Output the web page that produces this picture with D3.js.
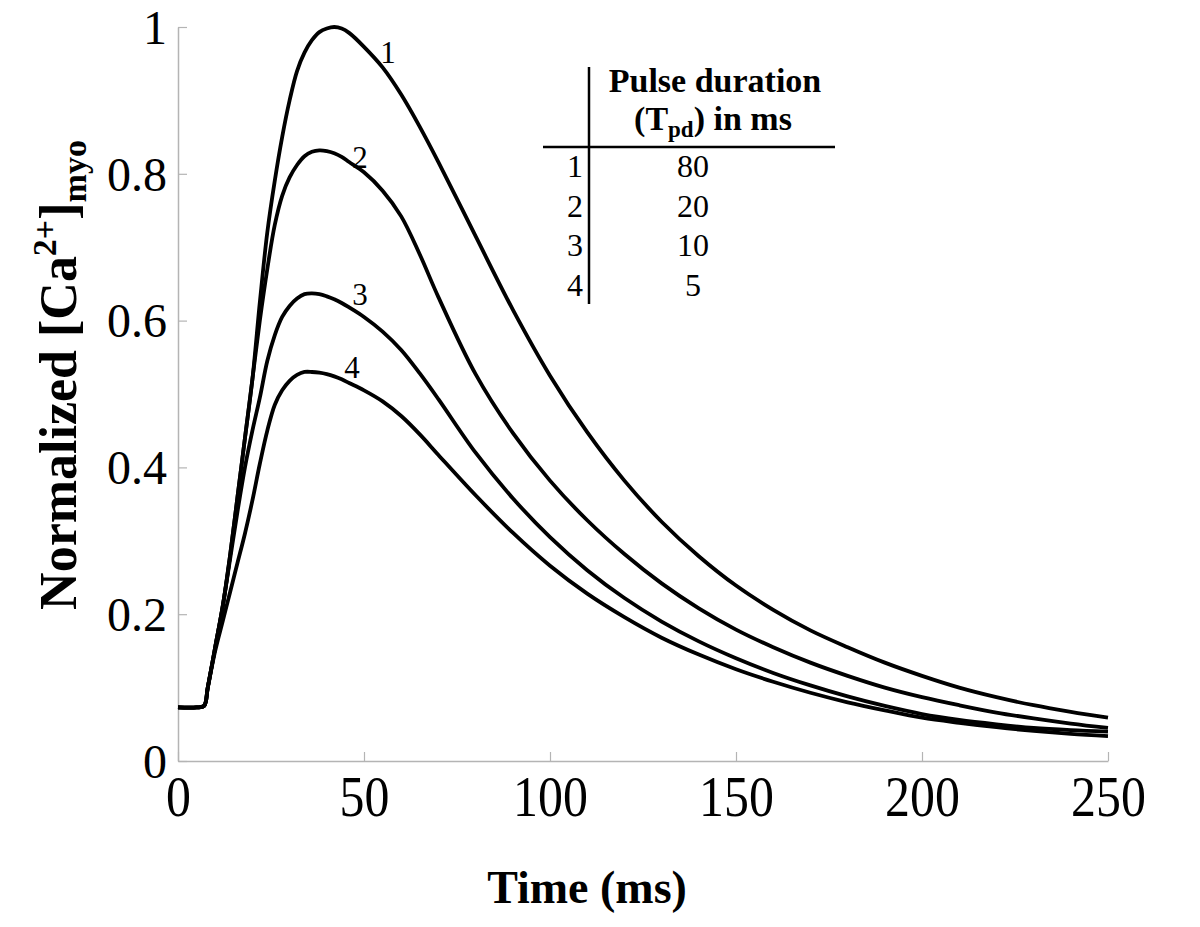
<!DOCTYPE html>
<html>
<head>
<meta charset="utf-8">
<script src="https://cdn.jsdelivr.net/npm/d3@7"></script>
<style>
html,body{margin:0;padding:0;background:#fff;}
svg{display:block;font-family:"Liberation Serif","Times New Roman",serif;}
</style>
</head>
<body>
<svg id="chart" width="1200" height="927"></svg>
<script>
// ---- data ----
const time = [0,5,7,8,10,12,14,16,18,20,22,24,26,28,30,32,34,36,38,40,42,44,46,50,55,60,65,70,80,90,100,110,120,130,140,150,160,170,180,190,200,210,220,230,240,250];
const curve1 = [0.073,0.073,0.075,0.10,0.155,0.21,0.28,0.36,0.44,0.52,0.625,0.72,0.79,0.85,0.90,0.94,0.965,0.982,0.993,0.998,1.0,0.998,0.992,0.973,0.945,0.908,0.864,0.816,0.715,0.615,0.525,0.448,0.382,0.326,0.279,0.239,0.206,0.178,0.155,0.134,0.116,0.10,0.087,0.076,0.067,0.059];
const curve2 = [0.073,0.073,0.075,0.10,0.155,0.21,0.28,0.36,0.44,0.52,0.60,0.67,0.73,0.77,0.795,0.812,0.824,0.83,0.832,0.831,0.828,0.823,0.816,0.802,0.777,0.742,0.69,0.632,0.527,0.447,0.382,0.328,0.282,0.242,0.208,0.179,0.155,0.134,0.116,0.1,0.087,0.076,0.066,0.058,0.051,0.045];
const curve3 = [0.073,0.073,0.075,0.10,0.155,0.21,0.275,0.34,0.40,0.45,0.495,0.545,0.58,0.605,0.62,0.63,0.636,0.637,0.636,0.633,0.629,0.624,0.618,0.605,0.585,0.56,0.528,0.493,0.42,0.358,0.305,0.26,0.222,0.19,0.163,0.14,0.12,0.103,0.088,0.075,0.064,0.056,0.05,0.045,0.042,0.040];
const curve4 = [0.073,0.073,0.075,0.10,0.15,0.19,0.23,0.27,0.31,0.355,0.405,0.45,0.485,0.505,0.518,0.526,0.53,0.53,0.529,0.527,0.524,0.52,0.515,0.505,0.49,0.47,0.445,0.417,0.362,0.311,0.266,0.228,0.196,0.168,0.145,0.125,0.108,0.093,0.08,0.069,0.059,0.052,0.046,0.041,0.037,0.034];
const seriesNames = ["1","2","3","4"];
const xTicks = [0,50,100,150,200,250];
const yTicks = [0,0.2,0.4,0.6,0.8,1];
const yTickLabels = ["0","0.2","0.4","0.6","0.8","1"];
const tableRows = ["1","2","3","4"];
const tableValues = ["80","20","10","5"];

// ---- layout ----
const svg = d3.select("#chart");
const x = d3.scaleLinear().domain([0,250]).range([178,1108]);
const y = d3.scaleLinear().domain([0,1]).range([761,27]);
const axisColor = "#b4b4b4";

// x axis (ticks inward)
const gx = svg.append("g").attr("transform","translate(0,761)")
  .call(d3.axisBottom(x).tickValues(xTicks).tickSizeInner(-9).tickSizeOuter(0).tickFormat(d3.format("d")));
gx.select(".domain").attr("stroke",axisColor).attr("stroke-width",1.5);
gx.selectAll(".tick line").attr("stroke",axisColor).attr("stroke-width",1.2);
gx.selectAll(".tick text").attr("fill","#000").attr("font-size",58)
  .attr("font-family","Liberation Serif").attr("y",0).attr("dy","0.95em")
  .attr("transform","scale(0.86,1)");

// y axis
const gy = svg.append("g").attr("transform","translate(178,0)")
  .call(d3.axisLeft(y).tickValues(yTicks).tickSizeInner(-9).tickSizeOuter(0).tickFormat((d,i)=>yTickLabels[i]));
gy.select(".domain").attr("stroke",axisColor).attr("stroke-width",1.5);
gy.selectAll(".tick line").attr("stroke",axisColor).attr("stroke-width",1.2);
gy.selectAll(".tick text").attr("fill","#000").attr("font-size",48)
  .attr("font-family","Liberation Serif").attr("x",-11).attr("dy","0.34em");

// curves
const allSeries = [curve1,curve2,curve3,curve4];
const line = d3.line().x((d,i)=>x(time[i])).y(d=>y(d)).curve(d3.curveCatmullRom.alpha(0.5));
svg.append("g").selectAll("path").data(allSeries).join("path")
  .attr("d",line).attr("fill","none").attr("stroke","#000").attr("stroke-width",3.8)
  .attr("stroke-linejoin","round");

// curve labels
const labelPos = [[388,63],[360,168],[360,305],[352,378]];
svg.append("g").selectAll("text").data(seriesNames).join("text")
  .attr("x",(d,i)=>labelPos[i][0]).attr("y",(d,i)=>labelPos[i][1])
  .attr("text-anchor","middle").attr("font-size",31).text(d=>d);

// table
const tbl = svg.append("g");
tbl.append("line").attr("x1",589).attr("x2",589).attr("y1",67).attr("y2",304).attr("stroke","#000").attr("stroke-width",2.5);
tbl.append("line").attr("x1",543).attr("x2",835).attr("y1",147).attr("y2",147).attr("stroke","#000").attr("stroke-width",2.5);
tbl.append("text").attr("x",715).attr("y",92).attr("text-anchor","middle").attr("font-weight","bold").attr("font-size",34).text("Pulse duration");
const h2 = tbl.append("text").attr("x",713).attr("y",130).attr("text-anchor","middle").attr("font-weight","bold").attr("font-size",34);
h2.append("tspan").text("(T");
h2.append("tspan").attr("font-size",23).attr("dy",7).text("pd");
h2.append("tspan").attr("dy",-7).text(") in ms");
const rowY = [177,217,256,296];
tbl.selectAll("text.rl").data(tableRows).join("text").attr("class","rl")
  .attr("x",583).attr("y",(d,i)=>rowY[i]).attr("text-anchor","end").attr("font-size",32).text(d=>d);
tbl.selectAll("text.rv").data(tableValues).join("text").attr("class","rv")
  .attr("x",693).attr("y",(d,i)=>rowY[i]).attr("text-anchor","middle").attr("font-size",32).text(d=>d);

// axis titles
svg.append("text").attr("x",587).attr("y",903).attr("text-anchor","middle")
  .attr("font-weight","bold").attr("font-size",46).text("Time (ms)");
const yl = svg.append("text").attr("transform","translate(76,375) rotate(-90)")
  .attr("text-anchor","middle").attr("font-weight","bold").attr("font-size",52);
yl.append("tspan").text("Normalized [Ca");
yl.append("tspan").attr("font-size",34).attr("dy",-20).text("2+");
yl.append("tspan").attr("dy",20).text("]");
yl.append("tspan").attr("font-size",34).attr("dy",10).text("myo");
</script>
</body>
</html>
